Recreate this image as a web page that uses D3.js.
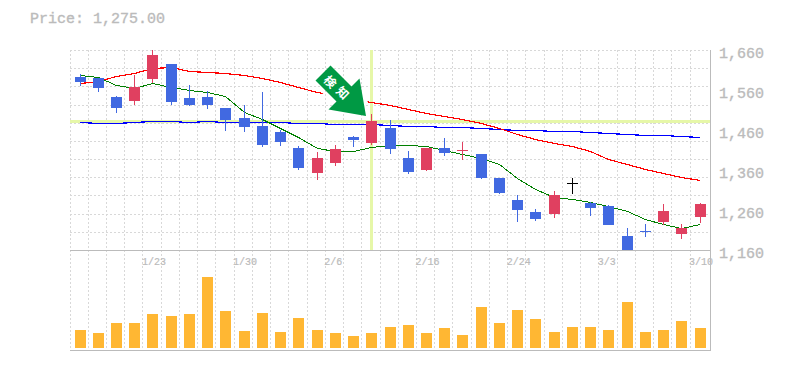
<!DOCTYPE html>
<html><head><meta charset="utf-8">
<script src="https://cdn.jsdelivr.net/npm/d3@7"></script>
<style>html,body{margin:0;padding:0;background:#fff}svg{display:block}
text{font-family:"Liberation Mono",monospace;fill:#bbb}</style></head>
<body><div id="c"></div>
<script>
const highs=[1600,1590,1545,1597.5,1660,1625,1572.5,1557.5,1515,1522.5,1555,1460,1420,1405,1422.5,1445,1500,1485,1407.5,1415,1440,1430,1400,1340,1297.5,1262.5,1307.5,1340,1280,1272.5,1215,1225,1275,1225,1277.5];
const lows=[1570,1555,1502.5,1522.5,1577.5,1522.5,1520,1512.5,1457.5,1455,1417.5,1420,1360,1335,1370,1417.5,1422.5,1400,1350,1357.5,1395,1385,1337.5,1300,1230,1232.5,1240,1300,1245,1222.5,1160,1192.5,1222.5,1187.5,1227.5];
const opens=[1592.5,1590,1542.5,1532.5,1587.5,1625,1540,1542.5,1515,1490,1470,1455,1415,1352.5,1377.5,1442.5,1427.5,1465,1390,1360,1415,1409,1400,1340,1285,1255,1250,1327.5,1277.5,1270,1195,1208,1230,1200,1242.5];
const closes=[1580,1565,1515,1567.5,1647.5,1530,1522.5,1522.5,1485,1467.5,1422.5,1430,1365,1390,1412.5,1435,1482.5,1412.5,1355,1415,1402.5,1410,1340,1302.5,1260,1237.5,1297.5,1327.5,1265,1222.5,1160,1207,1257.5,1215,1275];
const ma5=[1597.5,1593,1572.5,1566,1577.5,1568,1560,1554,1545,1506,1487.5,1465,1442.5,1416,1407.5,1407.5,1417.5,1422.5,1422.5,1420,1410,1400,1390,1375,1340,1312.5,1292.5,1287.5,1280,1270,1257.5,1237.5,1225,1215,1225];
const ma25=[1578,1582.5,1595,1602.5,1616,1617.5,1607.5,1605,1602.5,1597.5,1590,1580,1568,1556,1547.5,1537.5,1530,1522.5,1512.5,1503,1496,1487.5,1477.5,1465,1450,1437.5,1427.5,1421,1407.5,1387.5,1375,1362.5,1352.5,1342.5,1335];
const ma75=[1480,1477.5,1477.5,1480,1482.5,1482.5,1480,1482.5,1480,1480,1480,1480,1477.5,1477.5,1475,1475,1475,1472.5,1470,1470,1467.5,1467.5,1465,1462.5,1460,1460,1457.5,1457.5,1455,1452.5,1450,1447.5,1447.5,1445,1442.5];
const volumes=[18,15,25,25,34,32,34,71,37,17,35,16,30,18,15,12,15,21,23,15,20,13,41,25,38,29,16,21,21,18,46,16,18,27,20];
const dateLabels=["1/23","1/30","2/6","2/16","2/24","3/3","3/10"];
const dateIndex=[4,9,14,19,24,29,34];
const priceTicks=[1660,1560,1460,1360,1260,1160];
const priceTitle="Price: 1,275.00";
const signalIndex=16, signalPrice=1485, signalText=["検","知"];

const W=785,H=370,L=70,R=710,T=50,M=250,B=350;
const svg=d3.select("#c").append("svg").attr("width",W).attr("height",H);
const idx=d3.range(highs.length);
const xp=d3.scalePoint().domain(idx).range([80,700]);
const cx=i=>Math.floor(xp(i)+1e-6);
const y=d3.scaleLinear().domain([1160,1660]).range([M,T]);
const yv=d3.scaleLinear().domain([0,80]).range([348,268]);
const C={up:"#e04060",down:"#4169e1",flat:"#000"};
const line=a=>d3.line().x((d,i)=>cx(i)+.5).y(d=>Math.round(y(d))+.5)(a);
const crisp=s=>s.attr("shape-rendering","crispEdges");

// arrow geometry, relative to its tip
const tipX=cx(signalIndex)-5, tipY=y(signalPrice)-4;
const arrowPts=[[-35.5,-50.5],[-50.5,-35.5],[-29.5,-14.5],[-37.5,-6.5],[0,0],[-6.5,-37.5],[-14.5,-29.5]];
const mask=svg.append("defs").append("mask").attr("id","m").attr("maskUnits","userSpaceOnUse")
  .attr("x",0).attr("y",0).attr("width",W).attr("height",H);
mask.append("rect").attr("width",W).attr("height",H).attr("fill","#fff");
mask.append("polygon").attr("points",arrowPts.join(" ")).attr("transform",`translate(${tipX},${tipY})`)
  .attr("fill","#000").attr("stroke","#000").attr("stroke-width",8);

// grid
const grid=svg.append("g").attr("stroke","#d8d8d8").attr("stroke-dasharray","2,2");
d3.range(0,11).forEach(k=>{const v=Math.round(T+k*200/11)+.5;
  grid.append("line").attr("x1",L).attr("x2",R).attr("y1",v).attr("y2",v);});
idx.forEach(i=>{const v=cx(i)-10+.5;
  grid.append("line").attr("x1",v).attr("x2",v).attr("y1",T).attr("y2",B);});

// highlight
crisp(svg.append("rect").attr("x",L).attr("width",R-L).attr("y",y(signalPrice)).attr("height",3).attr("fill","#e6f7a8"));
crisp(svg.append("rect").attr("x",cx(signalIndex)-1).attr("width",3).attr("y",T).attr("height",M-T).attr("fill","#e6f7a8"));

// moving averages
crisp(svg.append("path").attr("d",line(ma75)).attr("fill","none").attr("stroke","#0000ff").attr("stroke-width",1.2));
crisp(svg.append("g").attr("mask","url(#m)").append("path").attr("d",line(ma25)).attr("fill","none").attr("stroke","#ff0000").attr("stroke-width",1.2));
crisp(svg.append("path").attr("d",line(ma5)).attr("fill","none").attr("stroke","#008000").attr("stroke-width",1));

// frame
const fr=svg.append("g").attr("stroke","#bbb");
fr.append("line").attr("x1",L).attr("x2",R+1).attr("y1",M+.5).attr("y2",M+.5);
fr.append("line").attr("x1",L).attr("x2",R+1).attr("y1",B+.5).attr("y2",B+.5);
fr.append("line").attr("x1",R+.5).attr("x2",R+.5).attr("y1",T).attr("y2",B+1);

// candles
const col=i=>closes[i]>opens[i]?C.up:closes[i]<opens[i]?C.down:C.flat;
const cg=svg.append("g");
idx.forEach(i=>{
  const top=Math.round(y(highs[i])),bot=Math.round(y(lows[i]));
  crisp(cg.append("rect").attr("x",cx(i)).attr("width",1).attr("y",top).attr("height",Math.max(1,bot-top)).attr("fill",col(i)));
  const a=Math.round(y(Math.max(opens[i],closes[i]))),b=Math.round(y(Math.min(opens[i],closes[i])));
  crisp(cg.append("rect").attr("x",cx(i)-5).attr("width",11).attr("y",a).attr("height",Math.max(1,b-a)).attr("fill",col(i)));
});
// volume
idx.forEach(i=>crisp(svg.append("rect").attr("x",cx(i)-5).attr("width",11).attr("y",yv(volumes[i])).attr("height",348-yv(volumes[i])).attr("fill","#ffb733")));

// arrow
const ag=svg.append("g").attr("transform",`translate(${tipX},${tipY})`);
ag.append("polygon").attr("points",arrowPts.join(" ")).attr("fill","#009944");
signalText.forEach((t,k)=>ag.append("text").attr("transform",`translate(${-36+k*12.5},${-34+k*11}) rotate(45)`)
  .attr("text-anchor","middle").attr("dy","0.36em").attr("font-size",12).attr("font-weight",700)
  .style("font-family","'Noto Sans CJK JP'").style("fill","#fff").text(t));

// axes
const yAxis=d3.axisRight(y).tickValues(priceTicks).tickFormat(d3.format(",")).tickSize(0).tickPadding(9);
const ya=svg.append("g").attr("transform",`translate(${R},0)`).call(yAxis);
ya.select(".domain").remove();
ya.selectAll("text").attr("font-size",15).attr("dy","0.32em").attr("transform","translate(0,3)")
  .style("fill","#bbb").style("stroke","#bbb").style("stroke-width",.35).style("font-family","'Liberation Mono',monospace");
const xAxis=d3.axisBottom(xp).tickValues(dateIndex).tickFormat(i=>dateLabels[dateIndex.indexOf(i)]).tickSize(0).tickPadding(0);
const xa=svg.append("g").attr("transform",`translate(0,${M+8})`).call(xAxis);
xa.select(".domain").remove();
xa.selectAll("text").attr("font-size",10).attr("text-anchor","start").attr("dy","0.71em")
  .attr("transform","translate(-11.5,0)").style("fill","#bbb").style("stroke","#bbb").style("stroke-width",.2).style("font-family","'Liberation Mono',monospace");
svg.append("text").attr("x",30).attr("y",23).attr("font-size",15).style("stroke","#bbb").style("stroke-width",.35).text(priceTitle);
</script></body></html>
